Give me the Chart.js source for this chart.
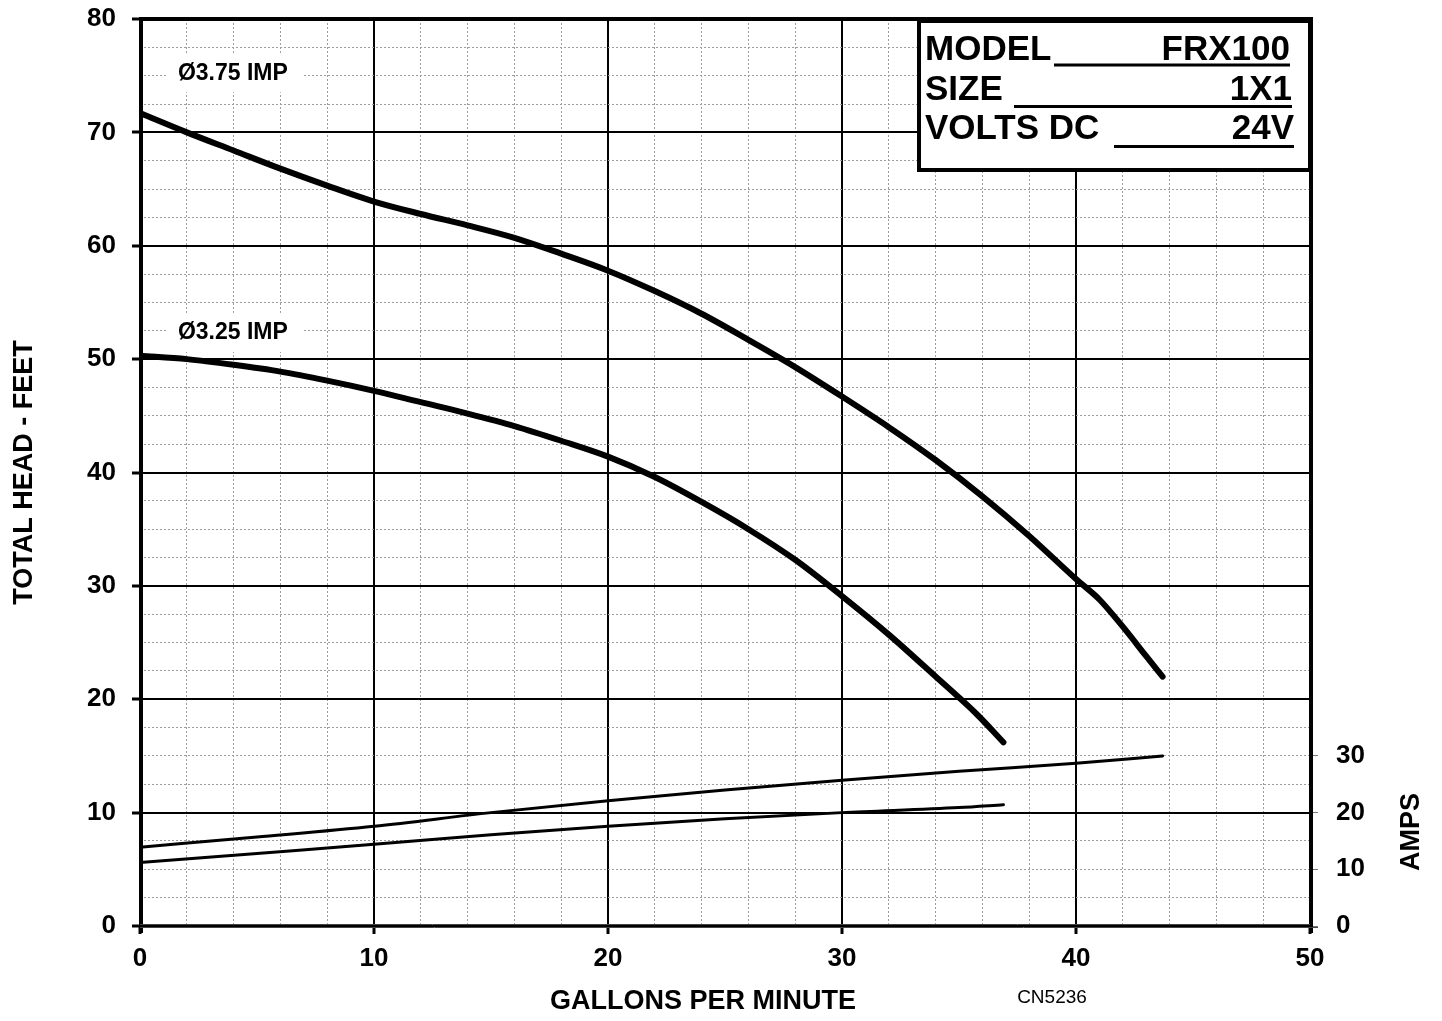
<!DOCTYPE html>
<html><head><meta charset="utf-8">
<script src="https://cdn.jsdelivr.net/npm/chart.js@4.4.1/dist/chart.umd.min.js"></script>
<style>html,body{margin:0;padding:0;background:#fff;overflow:hidden}canvas{display:block}</style>
</head><body>
<canvas id="c" width="1442" height="1021"></canvas>
<script>
// ---- data ----
const gpm375  = [0,2,4,6,8,10,12,14,16,18,20,22,24,26,28,30,32,34,36,38,40,41,42,43,43.7];
const head375 = [71.7,70.0,68.4,66.8,65.3,63.9,62.8,61.8,60.7,59.3,57.8,56.0,54.0,51.7,49.3,46.7,44.0,41.1,37.9,34.4,30.6,28.8,26.4,23.8,22.0];
const gpm325  = [0,2,4,6,8,10,12,14,16,18,20,22,24,26,28,30,32,34,35.75,36.9];
const head325 = [50.3,50.0,49.5,48.9,48.1,47.2,46.2,45.2,44.1,42.8,41.4,39.6,37.4,35.0,32.3,29.1,25.7,22.0,18.7,16.2];
const ampsGpm375 = [0,5,10,15,20,25,30,35,40,43.7];
const amps375    = [13.9,15.7,17.6,20.0,22.1,24.0,25.7,27.3,28.7,30.0];
const ampsGpm325 = [0,5,10,15,20,25,30,35,36.9];
const amps325    = [11.2,12.8,14.4,16.1,17.6,18.9,20.0,20.9,21.4];
const xTicks    = [0,10,20,30,40,50];
const headTicks = [0,10,20,30,40,50,60,70,80];
const ampTicks  = [0,10,20,30];
const curveLabels = ['Ø3.75 IMP','Ø3.25 IMP'];
const infoKeys = ['MODEL','SIZE','VOLTS DC'];
const infoVals = ['FRX100','1X1','24V'];
const xTitle = 'GALLONS PER MINUTE';
const yTitle = 'TOTAL HEAD - FEET';
const y1Title = 'AMPS';
const drawingNo = 'CN5236';

const FF = 'Arial, "Liberation Sans", sans-serif';
const pts = (xs, ys) => xs.map((x, i) => ({x, y: ys[i]}));

const overlay = {
  id: 'overlay',
  afterDatasetsDraw(chart) {
    const {ctx, chartArea: a, scales} = chart;
    const sx = scales.x, sy = scales.y;
    ctx.save();
    // curve labels with white backing
    ctx.font = 'bold 23px ' + FF;
    ctx.textAlign = 'center'; ctx.textBaseline = 'middle';
    [[curveLabels[0], 75.3], [curveLabels[1], 52.4]].forEach(([t, v]) => {
      const cx = sx.getPixelForValue(3.97), cy = sy.getPixelForValue(v);
      const w = ctx.measureText(t).width;
      ctx.fillStyle = '#fff';
      ctx.fillRect(cx - w / 2 - 11, cy - 19, w + 26, 39);
      ctx.fillStyle = '#000';
      ctx.fillText(t, cx, cy + 1);
    });
    // info box
    const bx = a.right - 393, by = a.top, bw = 393, bh = 153;
    ctx.fillStyle = '#fff';
    ctx.fillRect(bx, by, bw, bh);
    ctx.lineWidth = 4; ctx.strokeStyle = '#000';
    ctx.strokeRect(bx + 2, by + 2, bw - 2, bh - 4);
    ctx.font = 'bold 35px ' + FF;
    ctx.textBaseline = 'alphabetic';
    const base = [41, 81, 120], lineY = [46, 87.5, 127.5], lineX0 = [137, 97, 197], rightOff = [20, 18, 16];
    infoKeys.forEach((k, i) => {
      ctx.fillStyle = '#000';
      ctx.textAlign = 'left';
      ctx.fillText(k, bx + 8, by + base[i]);
      ctx.textAlign = 'right';
      ctx.fillText(infoVals[i], a.right - rightOff[i], by + base[i]);
      ctx.lineWidth = 3;
      ctx.beginPath();
      ctx.moveTo(bx + lineX0[i], by + lineY[i]);
      ctx.lineTo(a.right - rightOff[i], by + lineY[i]);
      ctx.stroke();
    });
    // frame
    ctx.strokeStyle = '#000';
    ctx.lineWidth = 4;
    ctx.beginPath();
    ctx.moveTo(a.left + 1, a.bottom + 7);
    ctx.lineTo(a.left + 1, a.top);
    ctx.lineTo(a.right + 1, a.top);
    ctx.lineTo(a.right + 1, a.bottom + 7);
    ctx.stroke();
    ctx.lineWidth = 1; ctx.strokeStyle = '#444';
    ctx.beginPath();
    ctx.moveTo(a.left, a.bottom - 1.5); ctx.lineTo(a.right, a.bottom - 1.5);
    ctx.moveTo(a.left, a.bottom + 1.5); ctx.lineTo(a.right + 8, a.bottom + 1.5);
    ctx.stroke();
    // titles and notes
    ctx.fillStyle = '#000';
    ctx.textAlign = 'center'; ctx.textBaseline = 'middle';
    ctx.font = 'bold 27px ' + FF;
    ctx.fillText(xTitle, 703, 1002);
    ctx.font = '19px ' + FF;
    ctx.fillText(drawingNo, 1052, 998);
    ctx.font = 'bold 27px ' + FF;
    ctx.translate(1412, 832);
    ctx.rotate(-Math.PI / 2);
    ctx.fillText(y1Title, 0, 0);
    ctx.restore();
  }
};

const tickFont = {family: FF, size: 26, weight: 'bold'};
const minorColor = (c) => (c.tick && Math.abs(c.tick.value % 10) < 1e-6) ? 'rgba(0,0,0,0)' : '#9d9d9d';
const noPadV = (w) => (s) => { s.width = w; s.paddingTop = 0; s.paddingBottom = 0; };

new Chart(document.getElementById('c'), {
  type: 'line',
  data: {
    datasets: [
      {label: curveLabels[0], data: pts(gpm375, head375), yAxisID: 'y', borderWidth: 6},
      {label: curveLabels[1], data: pts(gpm325, head325), yAxisID: 'y', borderWidth: 6},
      {label: 'Amps ' + curveLabels[0], data: pts(ampsGpm375, amps375), yAxisID: 'y1', borderWidth: 3},
      {label: 'Amps ' + curveLabels[1], data: pts(ampsGpm325, amps325), yAxisID: 'y1', borderWidth: 3}
    ].map(d => Object.assign(d, {borderColor: '#000', pointRadius: 0, cubicInterpolationMode: 'monotone', borderCapStyle: 'round', borderJoinStyle: 'round', fill: false}))
  },
  options: {
    responsive: false,
    animation: false,
    layout: {padding: {top: 19, left: 0, right: 0, bottom: 0}},
    plugins: {legend: {display: false}, tooltip: {enabled: false}},
    scales: {
      xMinor: {
        type: 'linear', position: 'bottom', min: 0, max: 50,
        ticks: {display: false, stepSize: 2},
        grid: {color: minorColor, lineWidth: 1, drawTicks: false},
        border: {display: false, dash: [2, 2]},
        afterFit: s => { s.height = 0; s.paddingLeft = 0; s.paddingRight = 0; }
      },
      x: {
        type: 'linear', position: 'bottom', min: 0, max: 50,
        afterBuildTicks: s => { s.ticks = xTicks.map(v => ({value: v})); },
        ticks: {font: tickFont, color: '#000', padding: 9, maxRotation: 0, autoSkip: false},
        grid: {color: '#000', lineWidth: 2, tickLength: 8, tickWidth: 3, tickColor: '#000'},
        border: {display: false},
        afterFit: s => { s.height = 95; s.paddingLeft = 0; s.paddingRight = 0; }
      },
      yMinor: {
        type: 'linear', position: 'left', min: 0, max: 80,
        ticks: {display: false, stepSize: 2.5},
        grid: {color: minorColor, lineWidth: 1, drawTicks: false},
        border: {display: false, dash: [2, 2]},
        afterFit: noPadV(0)
      },
      y: {
        type: 'linear', position: 'left', min: 0, max: 80,
        afterBuildTicks: s => { s.ticks = headTicks.map(v => ({value: v})); },
        ticks: {font: tickFont, color: '#000', padding: 16},
        grid: {color: '#000', lineWidth: 2, tickLength: 8, tickWidth: 3, tickColor: '#000'},
        border: {display: false},
        title: {display: true, text: yTitle, color: '#000', font: {family: FF, size: 27, weight: 'bold'}, padding: {top: 8, bottom: 0}},
        afterFit: noPadV(140)
      },
      y1: {
        type: 'linear', position: 'right', min: 0, max: 160,
        afterBuildTicks: s => { s.ticks = ampTicks.map(v => ({value: v})); },
        ticks: {font: tickFont, color: '#000', padding: 18},
        grid: {drawOnChartArea: false, tickLength: 8, tickWidth: 1, tickColor: '#777'},
        border: {display: false},
        afterFit: noPadV(132)
      }
    }
  },
  plugins: [overlay]
});
</script>
</body></html>
